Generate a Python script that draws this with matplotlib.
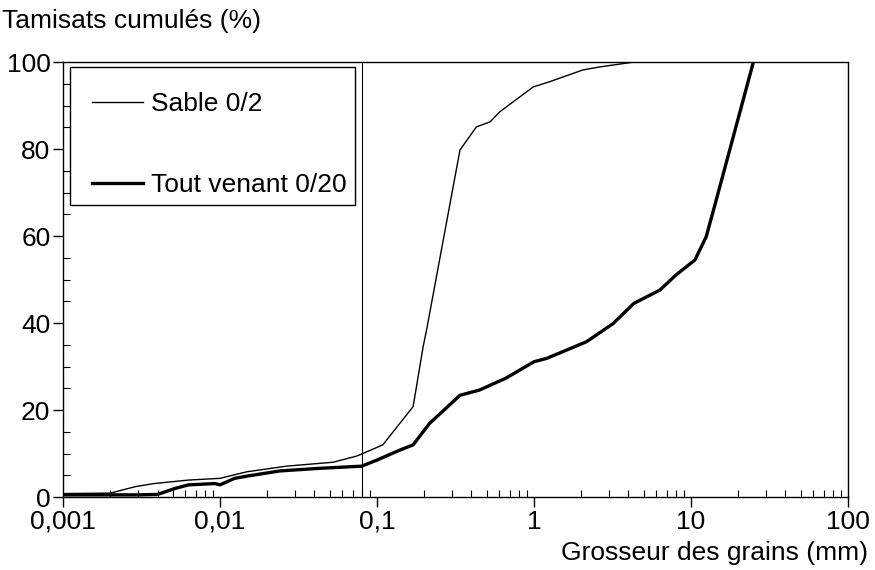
import numpy as np
import matplotlib
matplotlib.use("Agg")
import matplotlib.pyplot as plt
from matplotlib.patches import Rectangle
from matplotlib.ticker import FixedLocator, MultipleLocator, LogLocator, NullFormatter

plt.rcParams["font.family"] = ["Liberation Sans", "DejaVu Sans"]

# ---- data ----
sable_d = [0.001, 0.002, 0.0029, 0.0038, 0.0063, 0.01, 0.0148, 0.0265, 0.0525,
           0.074, 0.08, 0.109, 0.17, 0.197, 0.207, 0.338, 0.43, 0.527, 0.607,
           0.99, 1.26, 2.05, 2.63, 4.3]
sable_p = [0.8, 0.9, 2.4, 3.1, 3.9, 4.3, 5.8, 7.1, 8.0,
           9.4, 9.9, 12.0, 20.8, 34.6, 38.4, 79.8, 85.1, 86.3, 88.6,
           94.3, 95.5, 98.2, 98.9, 100]

tv_d = [0.001, 0.002, 0.003, 0.004, 0.0052, 0.0063, 0.0093, 0.01, 0.0124,
        0.0148, 0.024, 0.043, 0.08, 0.1, 0.14, 0.17, 0.216, 0.338, 0.45,
        0.66, 1.0, 1.21, 2.16, 3.2, 4.32, 6.35, 8.0, 10.6, 12.5, 14.5, 25]
tv_p = [0.5, 0.5, 0.5, 0.6, 2.0, 2.8, 3.1, 2.8, 4.3,
        4.8, 6.0, 6.6, 7.1, 8.5, 10.8, 12.0, 16.9, 23.4, 24.6,
        27.3, 31.1, 31.9, 35.7, 39.9, 44.5, 47.6, 51.0, 54.5, 59.8, 68.3, 100]

x_ticks = [0.001, 0.01, 0.1, 1, 10, 100]
x_labels = ["0,001", "0,01", "0,1", "1", "10", "100"]
y_ticks = [0, 20, 40, 60, 80, 100]
d_fines = 0.08

FS = 19

fig = plt.figure(figsize=(8.75, 5.7), dpi=100)
ax = fig.add_axes([0.072, 0.128, 0.897, 0.763])

ax.plot(sable_d, sable_p, color="black", lw=1.0, label="Sable 0/2")
ax.plot(tv_d, tv_p, color="black", lw=2.4, label="Tout venant 0/20")
ax.axvline(d_fines, color="black", lw=0.8)

ax.set_xscale("log")
ax.set_xlim(0.001, 100)
ax.set_ylim(0, 100)
ax.xaxis.set_major_locator(FixedLocator(x_ticks))
ax.set_xticklabels(x_labels)
ax.xaxis.set_minor_locator(LogLocator(base=10, subs=np.arange(2, 10), numticks=50))
ax.xaxis.set_minor_formatter(NullFormatter())
ax.set_yticks(y_ticks)
ax.yaxis.set_minor_locator(MultipleLocator(5))

ax.tick_params(which="major", direction="out", length=7, width=1, labelsize=FS, pad=2)
ax.tick_params(which="minor", direction="in", length=5, width=0.8)
for s in ax.spines.values():
    s.set_linewidth(1)

fig.text(0.002, 0.985, "Tamisats cumulés (%)", ha="left", va="top", fontsize=FS)
fig.text(0.992, 0.008, "Grosseur des grains (mm)", ha="right", va="bottom", fontsize=FS)

# legend box drawn separately so it can be narrower than matplotlib's padding allows
ax.add_patch(Rectangle((0.009, 0.671), 0.363, 0.318, transform=ax.transAxes,
                       facecolor="white", edgecolor="black", lw=1, zorder=4))
leg = ax.legend(loc="upper left", bbox_to_anchor=(0.037, 0.931), fontsize=FS,
                frameon=False, handlelength=1.95, handletextpad=0.27,
                labelspacing=2.15, borderpad=0, borderaxespad=0)
leg.set_zorder(5)

fig.savefig("out.png", dpi=100)
